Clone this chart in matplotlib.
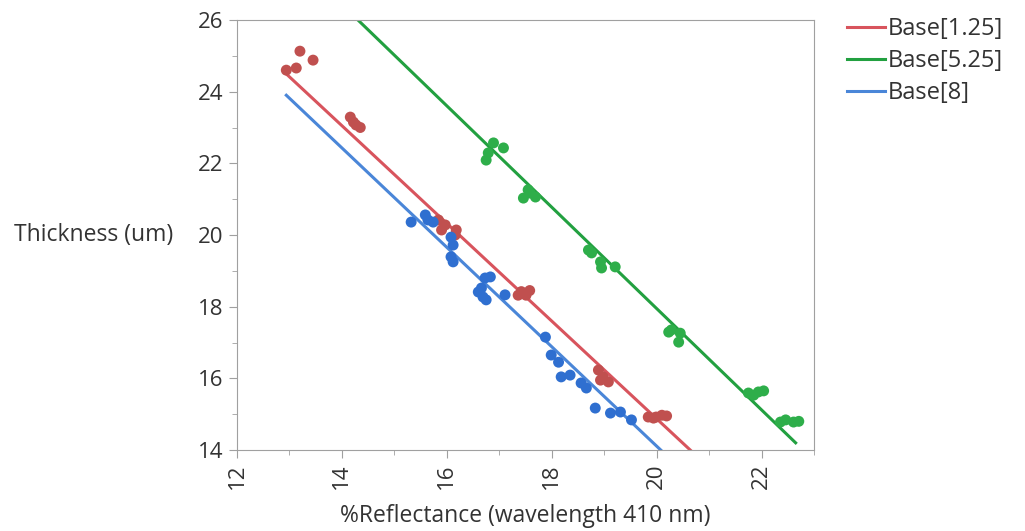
import matplotlib.pyplot as plt
from matplotlib.ticker import MultipleLocator
import numpy as np

plt.rcParams['font.family'] = ['Open Sans', 'DejaVu Sans']

# Base[1.25]
red_x = [12.94, 13.13, 13.20, 13.45, 14.16, 14.22, 14.27, 14.35,
         15.84, 15.90, 15.97, 16.16, 16.18, 17.36, 17.42, 17.51, 17.58,
         18.89, 18.93, 18.98, 19.08, 19.84, 19.94, 19.99, 20.10, 20.19]
red_y = [24.60, 24.66, 25.13, 24.88, 23.29, 23.15, 23.07, 23.00,
         20.42, 20.14, 20.28, 20.00, 20.14, 18.32, 18.42, 18.32, 18.45,
         16.23, 15.95, 16.04, 15.90, 14.92, 14.89, 14.92, 14.97, 14.95]

# Base[5.25]
green_x = [16.75, 16.79, 16.89, 17.08, 17.46, 17.55, 17.59, 17.69,
           18.70, 18.76, 18.93, 18.95, 19.21, 20.23, 20.28, 20.42, 20.45,
           21.75, 21.85, 21.94, 22.04, 22.36, 22.46, 22.61, 22.71]
green_y = [22.09, 22.29, 22.57, 22.43, 21.03, 21.26, 21.17, 21.06,
           19.58, 19.50, 19.25, 19.08, 19.11, 17.29, 17.35, 17.01, 17.26,
           15.59, 15.53, 15.62, 15.65, 14.78, 14.84, 14.78, 14.80]

# Base[8]
blue_x = [15.32, 15.59, 15.64, 15.74, 16.08, 16.12, 16.08, 16.12,
          16.60, 16.66, 16.69, 16.73, 16.75, 16.83, 17.11,
          17.88, 17.99, 18.13, 18.18, 18.35, 18.56, 18.66, 18.83, 19.12, 19.31, 19.52]
blue_y = [20.36, 20.56, 20.42, 20.36, 19.94, 19.72, 19.39, 19.25,
          18.41, 18.52, 18.27, 18.80, 18.19, 18.83, 18.33,
          17.15, 16.65, 16.45, 16.04, 16.09, 15.87, 15.73, 15.17, 15.03, 15.06, 14.84]

# fitted lines (end points)
fit_red = ([12.90, 20.75], [24.55, 13.85])
fit_green = ([14.20, 22.65], [26.15, 14.20])
fit_blue = ([12.94, 20.15], [23.90, 13.90])

labels = ['Base[1.25]', 'Base[5.25]', 'Base[8]']
point_colors = ['#C0504F', '#2EAE4A', '#2F6FD0']
line_colors = ['#D8545D', '#22A040', '#4A86D8']

fig = plt.figure(figsize=(10.25, 5.31), dpi=100)
ax = fig.add_axes([237 / 1025, 1 - 450 / 531, 577 / 1025, 430 / 531])

series = [(red_x, red_y, fit_red), (green_x, green_y, fit_green), (blue_x, blue_y, fit_blue)]
handles = []
for (xs, ys, fit), pc, lc, lab in zip(series, point_colors, line_colors, labels):
    ax.scatter(xs, ys, s=62, color=pc, edgecolors='none', zorder=3)
    h, = ax.plot(fit[0], fit[1], color=lc, lw=2.2, zorder=2, label=lab)
    handles.append(h)

ax.set_xlim(12, 23)
ax.set_ylim(14, 26)
ax.xaxis.set_major_locator(MultipleLocator(2))
ax.xaxis.set_minor_locator(MultipleLocator(1))
ax.yaxis.set_major_locator(MultipleLocator(2))
ax.yaxis.set_minor_locator(MultipleLocator(1))

for s in ax.spines.values():
    s.set_color('#A0A0A0')
    s.set_linewidth(0.8)
ax.tick_params(which='major', length=6, color='#A0A0A0', labelsize=16, labelcolor='#333333')
ax.tick_params(which='minor', length=3.5, color='#A0A0A0')
ax.tick_params(axis='x', which='major', labelrotation=90)

ax.set_xlabel('%Reflectance (wavelength 410 nm)', fontsize=16.5, color='#333333', labelpad=11)
ax.set_ylabel('Thickness (um)', fontsize=16.5, color='#333333', rotation=0, ha='right', va='center')
ax.yaxis.set_label_coords(-0.11, 0.5)

fig.legend(handles=handles, loc='upper left', bbox_to_anchor=(838 / 1025, 1 - 8 / 531),
           frameon=False, fontsize=17, handlelength=1.6, handletextpad=0.1,
           labelspacing=0.33, borderaxespad=0, labelcolor='#333333')

fig.savefig('out.png', dpi=100)
